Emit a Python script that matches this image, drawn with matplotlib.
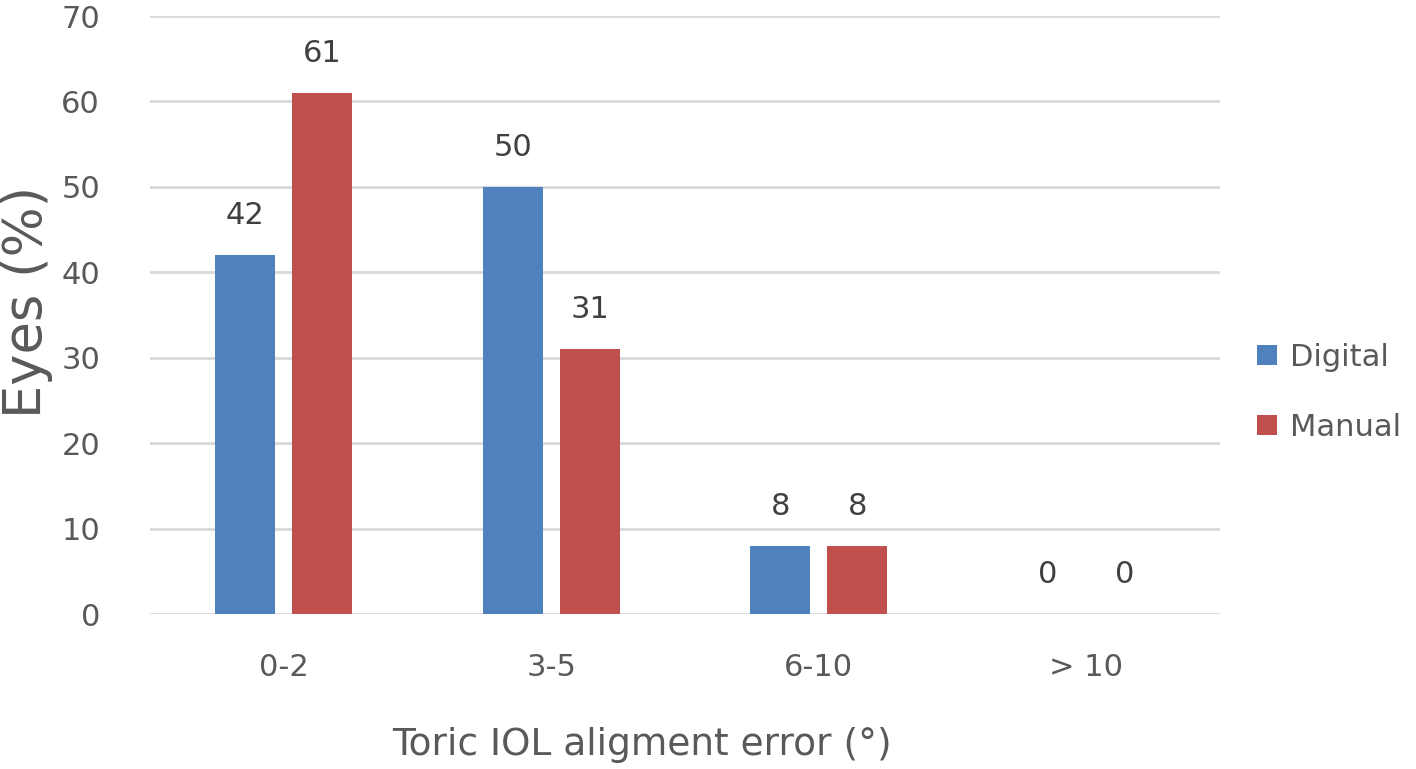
import numpy as np
import matplotlib.pyplot as plt

# data
categories = ['0-2', '3-5', '6-10', '> 10']
digital = [42, 50, 8, 0]
manual = [61, 31, 8, 0]
series_names = ['Digital', 'Manual']

blue = '#4F81BD'
red = '#C0504D'
text_col = '#595959'

plt.rcParams['font.family'] = ['DejaVu Sans']

fig = plt.figure(figsize=(14.16, 7.69), dpi=100)
ax = fig.add_axes([150/1416, 1 - 614/769, 1070/1416, 598/769])

x = np.arange(len(categories))
w = 0.224
off = 0.144
b1 = ax.bar(x - off, digital, w, color=blue, label=series_names[0], zorder=3)
b2 = ax.bar(x + off, manual, w, color=red, label=series_names[1], zorder=3)

# value labels above bars
for bars, vals in [(b1, digital), (b2, manual)]:
    for rect, v in zip(bars, vals):
        ax.text(rect.get_x() + rect.get_width()/2, v + 2.9, str(v),
                ha='center', va='bottom', fontsize=22, color='#404040')

ax.set_xlim(-0.5, 3.5)
ax.set_ylim(0, 70)
ax.set_yticks(np.arange(0, 71, 10))
ax.set_xticks(x)
ax.set_xticklabels(categories)
ax.tick_params(axis='both', length=0, labelsize=22, colors=text_col)
ax.tick_params(axis='y', pad=36)
ax.tick_params(axis='x', pad=28)
ax.yaxis.grid(True, color='#D9D9D9', linewidth=2, zorder=0)
for s in ax.spines.values():
    s.set_visible(False)

ax.set_ylabel('Eyes (%)', fontsize=38, color=text_col, va='center')
ax.yaxis.set_label_coords(-0.115, 0.522)
ax.set_xlabel('Toric IOL aligment error (°)', fontsize=27, color=text_col, va='center')
ax.xaxis.set_label_coords(0.46, -0.219)

ax.legend(loc='center left', bbox_to_anchor=(1.035, 0.371), frameon=False,
          fontsize=22, handlelength=0.65, handleheight=0.65, labelspacing=1.35,
          handletextpad=0.4, borderpad=0, borderaxespad=0, labelcolor=text_col)

fig.savefig('out.png', dpi=100)
